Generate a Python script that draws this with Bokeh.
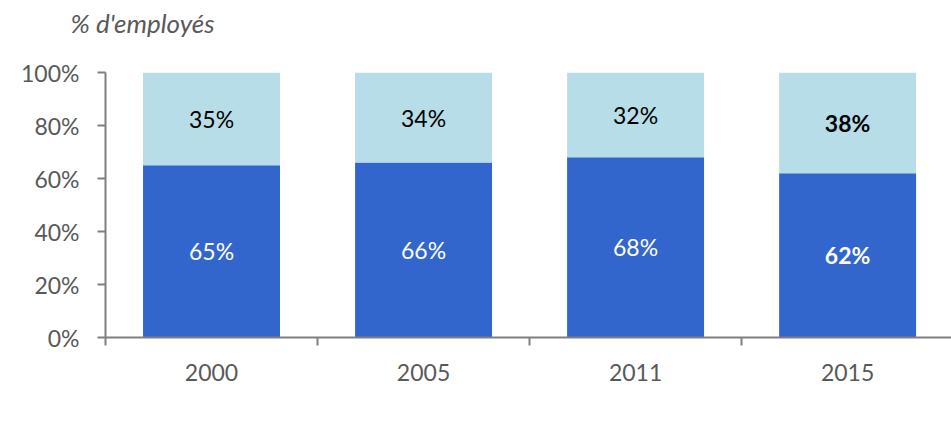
from bokeh.plotting import figure
from bokeh.models import ColumnDataSource, Range1d, FixedTicker, Legend, LegendItem
from bokeh.core.properties import value
from bokeh.embed import file_html
from bokeh.resources import INLINE

years = ["2000", "2005", "2011", "2015"]
salaries = [65, 66, 68, 62]
non_salaries = [35, 34, 32, 38]
y_ticks = [0, 20, 40, 60, 80, 100]
series_names = ["Salariés*", "Non salariés"]
title_text = "% d'employés"
bold_years = ["2015"]

FONT = "Lato"
GRAY = "#595959"
AXIS = "#7F7F7F"
DARK = "#3366CC"
LIGHT = "#B7DDE8"

xs = [i + 0.5 for i in range(len(years))]
src = ColumnDataSource(dict(x=xs, sal=salaries, non=non_salaries))

p = figure(frame_width=846, frame_height=265, x_range=Range1d(0, 3.99), y_range=Range1d(0, 100),
           output_backend="svg", toolbar_location=None,
           min_border_left=105, min_border_right=0, min_border_top=72, min_border_bottom=0)
p.outline_line_color = None
p.grid.visible = False

rs = p.vbar_stack(["sal", "non"], x="x", width=0.646, source=src,
                  color=[DARK, LIGHT], line_color=None)

# labels
lab_x, lab_y, lab_t, lab_c, lab_s = [], [], [], [], []
for x, yr, s, n in zip(xs, years, salaries, non_salaries):
    style = "bold" if yr in bold_years else "normal"
    lab_x += [x, x]
    lab_y += [s / 2, s + n / 2]
    lab_t += [f"{s}%", f"{n}%"]
    lab_c += ["white", "black"]
    lab_s += [style, style]
lsrc = ColumnDataSource(dict(x=lab_x, y=lab_y, t=lab_t, c=lab_c, s=lab_s))
p.text(x="x", y="y", text="t", source=lsrc, text_color="c", text_font_style="s",
       text_font=value(FONT), text_font_size="23px", text_align="center",
       text_baseline="middle")

# title (second blank line keeps it high above the frame)
p.title.text = title_text + "\n\u00a0"
p.title.text_font = FONT
p.title.text_font_style = "italic"
p.title.text_font_size = "26px"
p.title.text_color = GRAY
p.title.align = "left"
p.title.offset = -35
p.title.standoff = 4

# y axis
ya = p.yaxis[0]
ya.ticker = FixedTicker(ticks=y_ticks)
ya.major_label_overrides = {v: f"{v}%" for v in y_ticks}
ya.major_tick_out = 8
ya.major_tick_in = 0
ya.minor_tick_line_color = None
ya.axis_line_color = AXIS
ya.axis_line_width = 2
ya.major_tick_line_color = AXIS
ya.major_tick_line_width = 2
ya.major_label_text_font = FONT
ya.major_label_text_font_size = "23px"
ya.major_label_text_color = GRAY
ya.major_label_standoff = 18

# x axis
xa = p.xaxis[0]
xa.ticker = FixedTicker(ticks=xs, minor_ticks=list(range(len(years) + 1)))
xa.major_label_overrides = {x: y for x, y in zip(xs, years)}
xa.major_tick_out = 0
xa.major_tick_in = 0
xa.major_tick_line_color = None
xa.minor_tick_out = 8
xa.minor_tick_in = 0
xa.minor_tick_line_color = AXIS
xa.minor_tick_line_width = 2
xa.axis_line_color = AXIS
xa.axis_line_width = 2
xa.major_label_text_font = FONT
xa.major_label_text_font_size = "23px"
xa.major_label_text_color = GRAY
xa.major_label_standoff = 18

legend = Legend(items=[LegendItem(label=series_names[i], renderers=[rs[i]]) for i in range(2)],
                orientation="horizontal", location="top_center", spacing=183,
                glyph_width=15, glyph_height=15, label_standoff=4, label_width=155,
                label_text_font=FONT, label_text_font_size="24px", label_text_color=GRAY,
                title="\u00a0", title_text_font_size="10px", title_standoff=10,
                border_line_color=None, background_fill_alpha=0, padding=0, margin=0)
p.add_layout(legend, "below")

open("out.html", "w").write(file_html(p, INLINE))
